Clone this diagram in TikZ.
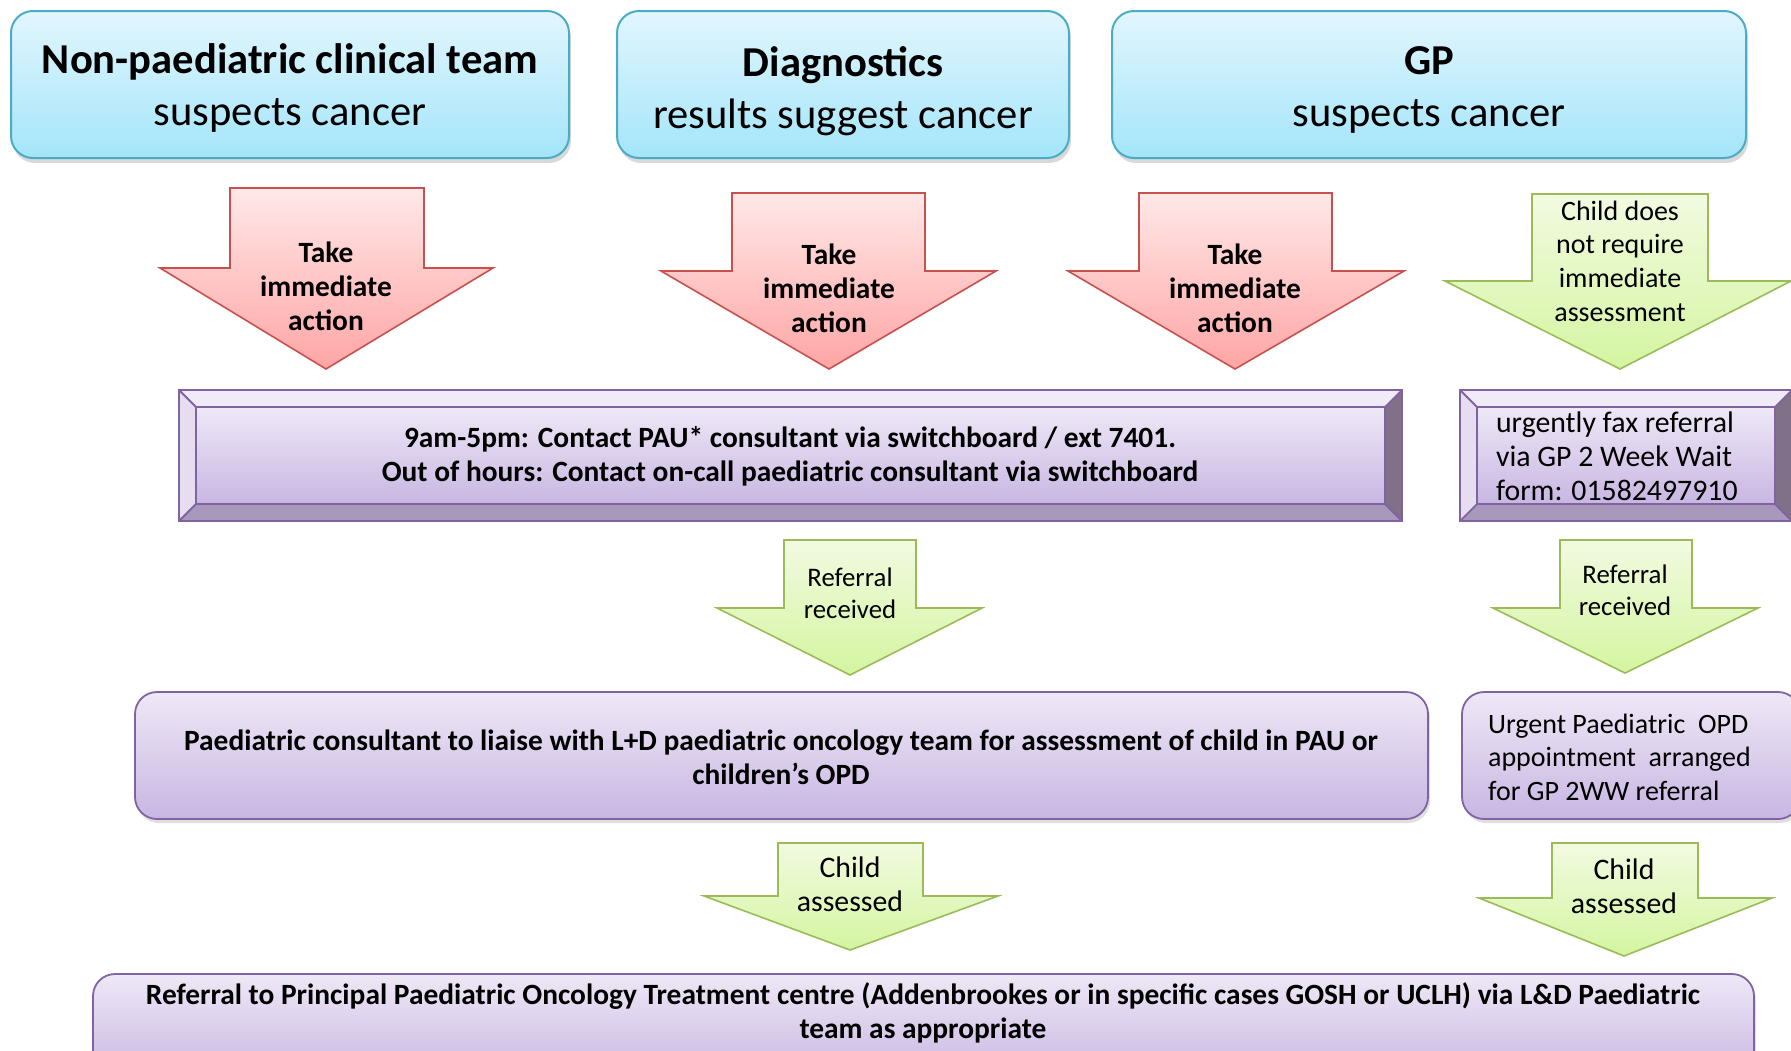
\documentclass[tikz,border=0pt]{standalone}
\usepackage{fontspec}
\setmainfont{Carlito}
\usetikzlibrary{shadows}

\definecolor{topline}{RGB}{75,172,198}
\definecolor{topA}{RGB}{226,246,253}
\definecolor{topB}{RGB}{164,229,250}
\definecolor{redline}{RGB}{200,80,77}
\definecolor{redA}{RGB}{255,232,232}
\definecolor{redB}{RGB}{255,165,165}
\definecolor{greenline}{RGB}{155,187,89}
\definecolor{greenA}{RGB}{242,250,225}
\definecolor{greenB}{RGB}{212,245,160}
\definecolor{purpline}{RGB}{128,100,162}
\definecolor{purpA}{RGB}{238,232,246}
\definecolor{purpB}{RGB}{200,182,226}
\definecolor{bevtop}{RGB}{240,235,246}
\definecolor{bevleft}{RGB}{230,222,240}
\definecolor{bevbot}{RGB}{168,152,188}
\definecolor{bevright}{RGB}{128,112,136}

\tikzset{
  topbox/.style={draw=topline, line width=1pt, rounded corners=11pt,
    top color=topA, bottom color=topB,
    drop shadow={shadow xshift=1pt, shadow yshift=-2.5pt, opacity=0.3}},
  redarrow/.style={draw=redline, line width=0.8pt, top color=redA, bottom color=redB},
  greenarrow/.style={draw=greenline, line width=0.8pt, top color=greenA, bottom color=greenB},
  purpbox/.style={draw=purpline, line width=0.9pt, rounded corners=11pt,
    top color=purpA, bottom color=purpB,
    drop shadow={shadow xshift=1pt, shadow yshift=-2pt, opacity=0.25}},
  bigtext/.style={align=center, font=\fontsize{21.3}{26}\selectfont},
  smalltext/.style={align=center, font=\fontsize{14.9}{17}\selectfont},
  lesstext/.style={align=center, font=\fontsize{14}{16.8}\selectfont},
  boldtext/.style={smalltext, font=\fontsize{14.7}{17}\selectfont\bfseries},
}

\begin{document}
\begin{tikzpicture}[x=0.5pt, y=-0.5pt]
    \useasboundingbox (0,0) rectangle (1791,1050);

    % top boxes
    \draw[topbox] (11,11) rectangle (569,158);
    \node[bigtext] (nonpaed) at (290,88) {\textbf{Non-paediatric clinical team}\\suspects cancer};
    \draw[topbox] (617,11) rectangle (1069,158);
    \node[bigtext] (diag) at (843,91) {\textbf{Diagnostics}\\results suggest cancer};
    \draw[topbox] (1112,11) rectangle (1746,158);
    \node[bigtext] (gp) at (1429,90) {\textbf{GP}\\suspects cancer};

    % take immediate action
    \draw[redarrow] (230,188) -- (424,188) -- (424,268) -- (493,268) -- (326,369)
        -- (160,268) -- (230,268) -- cycle;
    \node[boldtext] (act1) at (326,286) {Take\\immediate\\action};
    \draw[redarrow] (732,193) -- (925,193) -- (925,271) -- (996,271) -- (829,369)
        -- (661,271) -- (732,271) -- cycle;
    \node[boldtext] (act2) at (829,288) {Take\\immediate\\action};
    \draw[redarrow] (1139,193) -- (1332,193) -- (1332,271) -- (1404,271) -- (1235,369)
        -- (1068,271) -- (1139,271) -- cycle;
    \node[boldtext] (act3) at (1235,288) {Take\\immediate\\action};
    \draw[greenarrow] (1532,194) -- (1708,194) -- (1708,281) -- (1791,281) -- (1620,369)
        -- (1445,281) -- (1532,281) -- cycle;
    \node[lesstext] (noneed) at (1620,261) {Child does\\not require\\immediate\\assessment};

    % bevelled boxes
    \foreach \xa/\xb in {179/1402, 1460/1792} {
      \fill[bevtop] (\xa,390) -- (\xb,390) -- (\xb-17,407) -- (\xa+17,407) -- cycle;
      \fill[bevleft] (\xa,390) -- (\xa+17,407) -- (\xa+17,504) -- (\xa,521) -- cycle;
      \fill[bevbot] (\xa,521) -- (\xa+17,504) -- (\xb-17,504) -- (\xb,521) -- cycle;
      \fill[bevright] (\xb,390) -- (\xb,521) -- (\xb-17,504) -- (\xb-17,407) -- cycle;
      \shade[top color=purpA, bottom color=purpB] (\xa+17,407) rectangle (\xb-17,504);
      \draw[purpline, line width=0.9pt] (\xa,390) rectangle (\xb,521)
        (\xa+17,407) rectangle (\xb-17,504)
        (\xa,390) -- (\xa+17,407) (\xb,390) -- (\xb-17,407)
        (\xa,521) -- (\xa+17,504) (\xb,521) -- (\xb-17,504);
    }
    \node[boldtext] (contact) at (790,456) {9am-5pm: Contact PAU* consultant via switchboard / ext 7401.\\
        Out of hours: Contact on-call paediatric consultant via switchboard};
    \node[smalltext, align=left, anchor=west] (fax) at (1489,456) {urgently fax referral\\via GP 2 Week Wait\\form: 01582497910};

    % referral received
    \draw[greenarrow] (784,540) -- (916,540) -- (916,608) -- (982,608) -- (850,675)
        -- (717,608) -- (784,608) -- cycle;
    \node[lesstext, font=\fontsize{13.4}{16}\selectfont] (recv1) at (850,593) {Referral\\received};
    \draw[greenarrow] (1560,540) -- (1692,540) -- (1692,608) -- (1758,608) -- (1625,673)
        -- (1493,608) -- (1560,608) -- cycle;
    \node[lesstext, font=\fontsize{13.4}{16}\selectfont] (recv2) at (1625,590) {Referral\\received};

    % liaise boxes
    \draw[purpbox] (135,692) rectangle (1428,819);
    \node[boldtext] (liaise) at (781,757) {Paediatric consultant to liaise with L+D paediatric oncology team for assessment of child in PAU or\\children’s OPD};
    \draw[purpbox] (1462,692) rectangle (1800,819);
    \node[lesstext, align=left, anchor=west] (opd) at (1481,757) {Urgent Paediatric\ \ OPD\\appointment\ \ arranged\\for GP 2WW referral};

    % child assessed
    \draw[greenarrow] (778,843) -- (923,843) -- (923,896) -- (998,896) -- (850,950)
        -- (704,896) -- (778,896) -- cycle;
    \node[smalltext] (assess1) at (850,884) {Child\\assessed};
    \draw[greenarrow] (1552,843) -- (1698,843) -- (1698,898) -- (1772,898) -- (1624,956)
        -- (1479,898) -- (1552,898) -- cycle;
    \node[smalltext] (assess2) at (1624,886) {Child\\assessed};

    % final referral
    \draw[purpbox] (93,974) rectangle (1754,1080);
    \node[boldtext] (final) at (923,1013) {Referral to Principal Paediatric Oncology Treatment centre (Addenbrookes or in specific cases GOSH or UCLH) via L\&D Paediatric\\team as appropriate};

\end{tikzpicture}
\end{document}
